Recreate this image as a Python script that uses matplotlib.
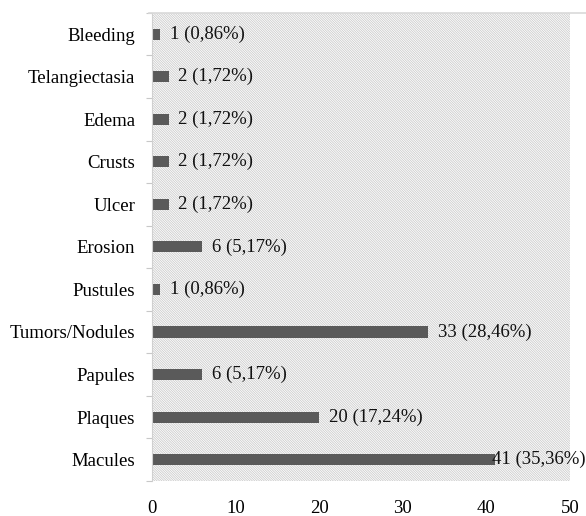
import numpy as np
import matplotlib.pyplot as plt
from matplotlib.lines import Line2D

# lesion types, bottom to top
lesions = ['Macules', 'Plaques', 'Papules', 'Tumors/Nodules', 'Pustules',
           'Erosion', 'Ulcer', 'Crusts', 'Edema', 'Telangiectasia', 'Bleeding']
counts = [41, 20, 6, 33, 1, 6, 2, 2, 2, 2, 1]
percents = ['35,36', '17,24', '5,17', '28,46', '0,86',
            '5,17', '1,72', '1,72', '1,72', '1,72', '0,86']

plt.rcParams['font.family'] = ['Liberation Serif', 'DejaVu Serif']
plt.rcParams['hatch.linewidth'] = 0.6
plt.rcParams['hatch.color'] = '#cccccc'

fig = plt.figure(figsize=(5.86, 5.16), dpi=100)
ax = fig.add_axes([0.259, 0.068, 0.714, 0.907])

pos = np.arange(len(lesions))

# hatched plot background
ax.fill_between([0, 50], -0.5, len(lesions) - 0.5, facecolor='white',
                edgecolor='#cccccc', hatch='\\' * 14, linewidth=0, zorder=0)

ax.barh(pos, counts, height=0.26, color='#5a5a5a', zorder=2)

for i, (c, p) in enumerate(zip(counts, percents)):
    off = -2 if c > 40 else 7
    ax.annotate('%d (%s%%)' % (c, p), (c, i), xytext=(off, 0),
                textcoords='offset points', va='center', ha='left',
                fontsize=13.5, color='#111111', zorder=3, annotation_clip=False)

ax.set_xlim(0, 50)
ax.set_ylim(-0.5, len(lesions) - 0.5)
ax.set_xticks(range(0, 51, 10))
ax.set_yticks(pos)
ax.set_yticklabels(lesions)
ax.set_yticks(np.arange(-0.5, len(lesions), 1), minor=True)

ax.tick_params(axis='y', which='major', length=0, pad=12, labelsize=13.5)
ax.tick_params(axis='y', which='minor', length=4, color='#c8c8c8', width=0.8)
ax.tick_params(axis='x', length=0, pad=14, labelsize=13.5)

for s in ['right', 'bottom', 'top']:
    ax.spines[s].set_visible(False)
ax.spines['left'].set_color('#d0d0d0')
ax.spines['left'].set_linewidth(0.8)

# thin border along the top of the chart area
top = 0.975
fig.add_artist(Line2D([0.255, 1.0], [top, top], transform=fig.transFigure,
                      color='#d9d9d9', linewidth=1.2))

fig.savefig('out.png', dpi=100)
